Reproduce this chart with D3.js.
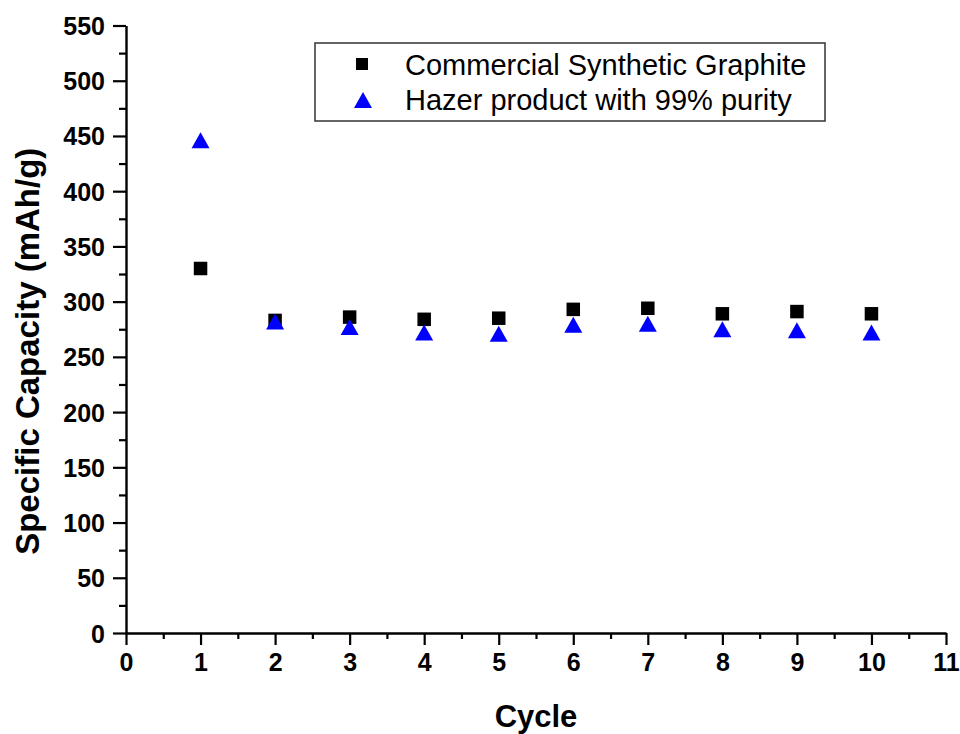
<!DOCTYPE html>
<html>
<head>
<meta charset="utf-8">
<script src="https://d3js.org/d3.v7.min.js"></script>
<style>
  body { margin: 0; background: #fff; }
  text { font-family: "Liberation Sans", Arial, sans-serif; }
</style>
</head>
<body>
<div id="chart"></div>
<script>
// data
const cycles = [1, 2, 3, 4, 5, 6, 7, 8, 9, 10];
const graphite = [330, 283, 286, 284, 285, 293, 294, 289, 291, 289];
const hazer = [446, 282, 277, 272, 271, 279, 280, 275, 274, 272];
const xTicks = [0, 1, 2, 3, 4, 5, 6, 7, 8, 9, 10, 11];
const yTicks = [0, 50, 100, 150, 200, 250, 300, 350, 400, 450, 500, 550];
const seriesNames = ["Commercial Synthetic Graphite", "Hazer product with 99% purity"];

const width = 960, height = 734;
const margin = { top: 25.5, right: 14, bottom: 101, left: 126 };

const svg = d3.select("#chart")
    .append("svg")
    .attr("width", width)
    .attr("height", height);

const x = d3.scaleLinear().domain([0, 11]).range([margin.left, width - margin.right]);
const y = d3.scaleLinear().domain([0, 550]).range([height - margin.bottom, margin.top]);

// minor ticks first (no labels)
const xMinor = d3.range(0.5, 11, 1);
const yMinor = d3.range(25, 550, 50);

svg.append("g")
    .attr("transform", `translate(0,${y(0)})`)
    .call(d3.axisBottom(x).tickValues(xMinor).tickSize(6).tickSizeOuter(0).tickFormat(""))
    .call(g => g.select(".domain").remove())
    .selectAll("line").attr("stroke-width", 2.2);

svg.append("g")
    .attr("transform", `translate(${x(0)},0)`)
    .call(d3.axisLeft(y).tickValues(yMinor).tickSize(7).tickSizeOuter(0).tickFormat(""))
    .call(g => g.select(".domain").remove())
    .selectAll("line").attr("stroke-width", 2.2);

// major axes
const xAxis = svg.append("g")
    .attr("transform", `translate(0,${y(0)})`)
    .call(d3.axisBottom(x).tickValues(xTicks).tickSize(12).tickSizeOuter(0).tickPadding(8));

const yAxis = svg.append("g")
    .attr("transform", `translate(${x(0)},0)`)
    .call(d3.axisLeft(y).tickValues(yTicks).tickSize(13).tickSizeOuter(0).tickPadding(8));

[xAxis, yAxis].forEach(g => {
    g.select(".domain").attr("stroke-width", 2.4);
    g.selectAll(".tick line").attr("stroke-width", 2.2);
    g.selectAll(".tick text")
        .attr("font-size", "25px")
        .attr("font-weight", "bold")
        .attr("fill", "#000");
});
yAxis.selectAll(".tick text").attr("dy", "0.36em");

// axis titles
svg.append("text")
    .attr("x", (x(0) + x(11)) / 2)
    .attr("y", 727)
    .attr("text-anchor", "middle")
    .attr("font-size", "31px")
    .attr("font-weight", "bold")
    .text("Cycle");

svg.append("text")
    .attr("transform", `translate(39,${(y(0) + y(550)) / 2 + 22}) rotate(-90)`)
    .attr("text-anchor", "middle")
    .attr("font-size", "33px")
    .attr("font-weight", "bold")
    .text("Specific Capacity (mAh/g)");

// markers
const sq = 13.5;
const triW = 18, triH = 16;
const triPath = `M0,${-triH / 2}L${triW / 2},${triH / 2}L${-triW / 2},${triH / 2}Z`;

svg.append("g")
    .selectAll("rect")
    .data(cycles)
    .enter()
    .append("rect")
    .attr("x", (d, i) => x(d) - sq / 2)
    .attr("y", (d, i) => y(graphite[i]) - sq / 2)
    .attr("width", sq)
    .attr("height", sq)
    .attr("fill", "#000");

svg.append("g")
    .selectAll("path")
    .data(cycles)
    .enter()
    .append("path")
    .attr("d", triPath)
    .attr("transform", (d, i) => `translate(${x(d)},${y(hazer[i])})`)
    .attr("fill", "#0000ff");

// legend
const legend = svg.append("g").attr("transform", "translate(315,43)");
legend.append("rect")
    .attr("width", 510)
    .attr("height", 78)
    .attr("fill", "#fff")
    .attr("stroke", "#333")
    .attr("stroke-width", 1.5);

legend.append("rect")
    .attr("x", 47 - 6)
    .attr("y", 21 - 6)
    .attr("width", 12)
    .attr("height", 12)
    .attr("fill", "#000");
legend.append("path")
    .attr("d", triPath)
    .attr("transform", "translate(48,57)")
    .attr("fill", "#0000ff");

legend.selectAll("text.lbl")
    .data(seriesNames)
    .enter()
    .append("text")
    .attr("class", "lbl")
    .attr("x", 90)
    .attr("y", (d, i) => 32 + i * 35)
    .attr("font-size", "29px")
    .text(d => d);
</script>
</body>
</html>
